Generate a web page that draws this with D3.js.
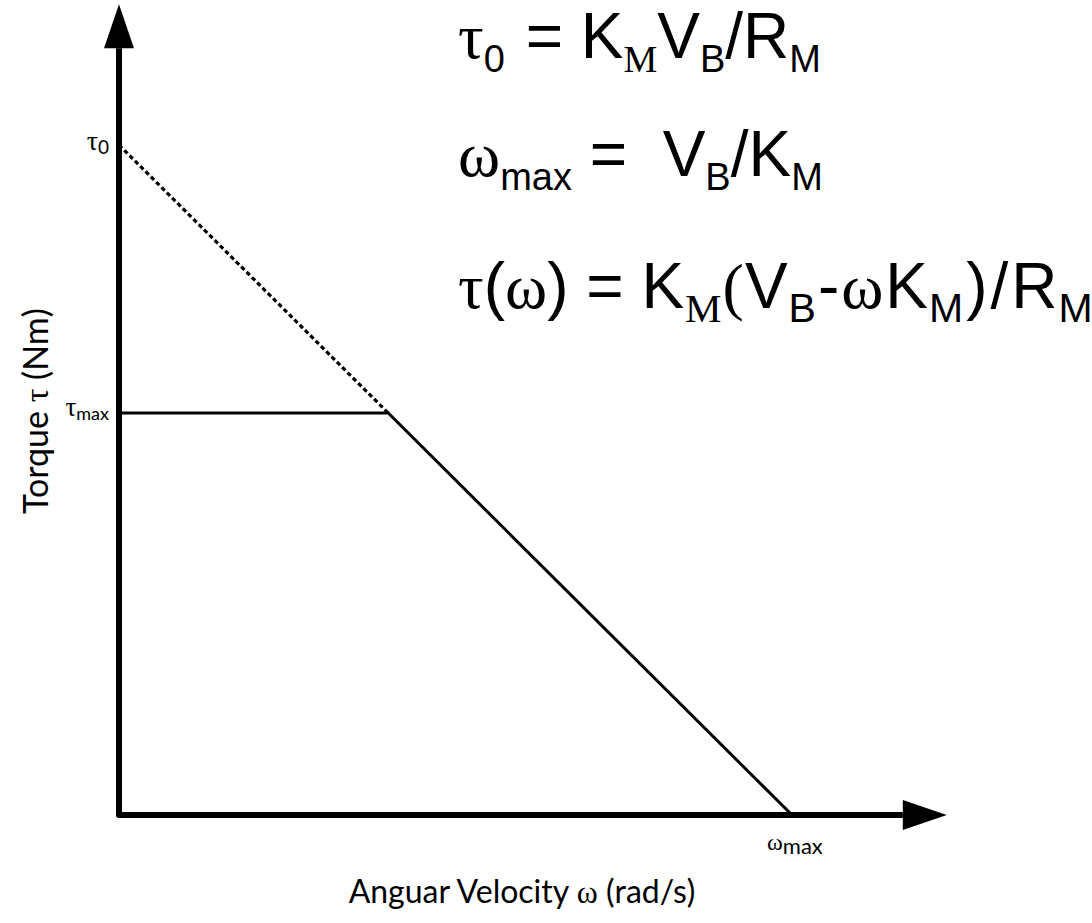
<!DOCTYPE html>
<html>
<head>
<meta charset="utf-8">
<script src="https://cdn.jsdelivr.net/npm/d3@7"></script>
<style>
  html, body { margin: 0; padding: 0; background: #fff; }
  svg { display: block; }
</style>
</head>
<body>
<svg id="chart" width="1092" height="923"></svg>
<script>
// Torque–speed characteristic of a DC motor with a current (torque) limit.
// Normalised units: stall torque tau0 = 1, no-load speed omegaMax = 1.
const tau0 = 1;
const omegaMax = 1;
const tauMax = 0.6;

// Operating curve: flat at tauMax, then the linear motor line down to omegaMax
const curveOmega  = [0, 0.4, 1];
const curveTorque = [0.6, 0.6, 0];

// Unreachable part of the motor line (above the torque limit), drawn dashed
const extOmega  = [0, 0.4];
const extTorque = [1, 0.6];

// How far the axes run past the plotted range (arrow tips)
const axisOmegaEnd  = 1.23;
const axisTorqueEnd = 1.21;

const svg = d3.select("#chart");

const x = d3.scaleLinear().domain([0, omegaMax]).range([119, 792]);
const y = d3.scaleLinear().domain([0, tau0]).range([815, 145]);

const serif = "'Liberation Serif', 'Times New Roman', serif";
const sans  = "'Liberation Sans', Arial, sans-serif";
const label = "Lato, 'Open Sans', sans-serif";

// ---- axes with arrowheads ----
const headLen = 44, headHalf = 15;
const yTip = y(axisTorqueEnd), xTip = x(axisOmegaEnd);

svg.append("path")
  .attr("d", `M${x(0)},${yTip + headLen} L${x(0)},${y(0)} L${xTip - headLen},${y(0)}`)
  .attr("fill", "none").attr("stroke", "#000")
  .attr("stroke-width", 6).attr("stroke-linejoin", "round");

svg.append("path")
  .attr("d", `M${x(0)},${yTip} L${x(0) - headHalf},${yTip + headLen} L${x(0) + headHalf},${yTip + headLen} Z`)
  .attr("fill", "#000");

svg.append("path")
  .attr("d", `M${xTip},${y(0)} L${xTip - headLen},${y(0) - headHalf} L${xTip - headLen},${y(0) + headHalf} Z`)
  .attr("fill", "#000");

// ---- curves ----
const line = d3.line().x(d => x(d[0])).y(d => y(d[1]));

svg.append("path")
  .datum(extOmega.map((w, i) => [w, extTorque[i]]))
  .attr("d", line)
  .attr("fill", "none").attr("stroke", "#000")
  .attr("stroke-width", 3.2).attr("stroke-dasharray", "4.5,3");

svg.append("path")
  .datum(curveOmega.map((w, i) => [w, curveTorque[i]]))
  .attr("d", line)
  .attr("fill", "none").attr("stroke", "#000")
  .attr("stroke-width", 3).attr("stroke-linejoin", "miter");

// ---- point labels on the axes ----
function greekLabel(greek, sub, px, py, anchor, gSize, sSize, drop) {
  const t = svg.append("text")
    .attr("x", px).attr("y", py)
    .attr("text-anchor", anchor)
    .attr("fill", "#000");
  t.append("tspan").attr("font-family", serif).attr("font-size", gSize).text(greek);
  t.append("tspan").attr("font-family", label).attr("font-size", sSize)
    .attr("dy", drop).text(sub);
  return t;
}
greekLabel("τ", "0", 109, y(tau0) + 5, "end", 28, 19, 4);
greekLabel("τ", "max", 109, y(tauMax) + 3, "end", 27, 18, 4);
greekLabel("ω", "max", 767, 850, "start", 24, 22, 4);

// ---- axis titles ----
svg.append("text")
  .attr("transform", `translate(48,${411}) rotate(-90)`)
  .attr("text-anchor", "middle")
  .attr("font-family", label).attr("font-size", 34)
  .call(t => {
    t.append("tspan").text("Torque ");
    t.append("tspan").attr("font-family", serif).text("τ");
    t.append("tspan").text(" (Nm)");
  });

svg.append("text")
  .attr("x", 522).attr("y", 903)
  .attr("text-anchor", "middle")
  .attr("font-family", label).attr("font-size", 32)
  .call(t => {
    t.append("tspan").text("Anguar Velocity ");
    t.append("tspan").attr("font-family", serif).text("ω");
    t.append("tspan").text(" (rad/s)");
  });

// ---- equations ----
// each piece: [text, font, role, extra x gap]; role is "main" or "sub"
const eqLines = [
  [["τ", "serif", "main", 0], ["0", "sans", "sub", 0], [" = ", "sans", "main", 3], ["K", "sans", "main", 0],
   ["M", "serif", "sub", 0], ["V", "sans", "main", 0], ["B", "sans", "sub", 0], ["/R", "sans", "main", 0],
   ["M", "sans", "sub", 0]],
  [["ω", "serif", "main", 0], ["max", "sans", "sub", 0], [" =  V", "sans", "main", 0], ["B", "sans", "sub", 0],
   ["/K", "sans", "main", 0], ["M", "sans", "sub", 0]],
  [["τ", "serif", "main", 0], ["(", "sans", "main", 0], ["ω", "serif", "main", 0], [") = K", "sans", "main", 0],
   ["M", "serif", "sub", 1], ["(", "serif", "main", 1], ["V", "sans", "main", 1], ["B", "sans", "sub", 1],
   ["-", "sans", "main", 2], ["ω", "serif", "main", 2], ["K", "sans", "main", 2], ["M", "sans", "sub", 1],
   [")", "sans", "main", 3], ["/", "sans", "main", 3], ["R", "sans", "main", 3], ["M", "sans", "sub", 1]]
];
const eqBaselines = [58, 176, 308];
const mainSize = 64, subSize = 38, subDrop = 14;

eqLines.forEach((pieces, li) => {
  const t = svg.append("text")
    .attr("x", 458).attr("y", eqBaselines[li])
    .attr("fill", "#000")
    .style("white-space", "pre");
  let shifted = false;
  pieces.forEach(([txt, font, role, gap]) => {
    const isSub = role === "sub";
    let dy = 0;
    if (isSub && !shifted) { dy = subDrop; shifted = true; }
    else if (!isSub && shifted) { dy = -subDrop; shifted = false; }
    t.append("tspan")
      .attr("dx", gap)
      .attr("dy", dy)
      .attr("font-family", font === "serif" ? serif : sans)
      .attr("font-size", isSub ? (li === 2 ? subSize + 3 : subSize) : mainSize)
      .text(txt);
  });
});
</script>
</body>
</html>
